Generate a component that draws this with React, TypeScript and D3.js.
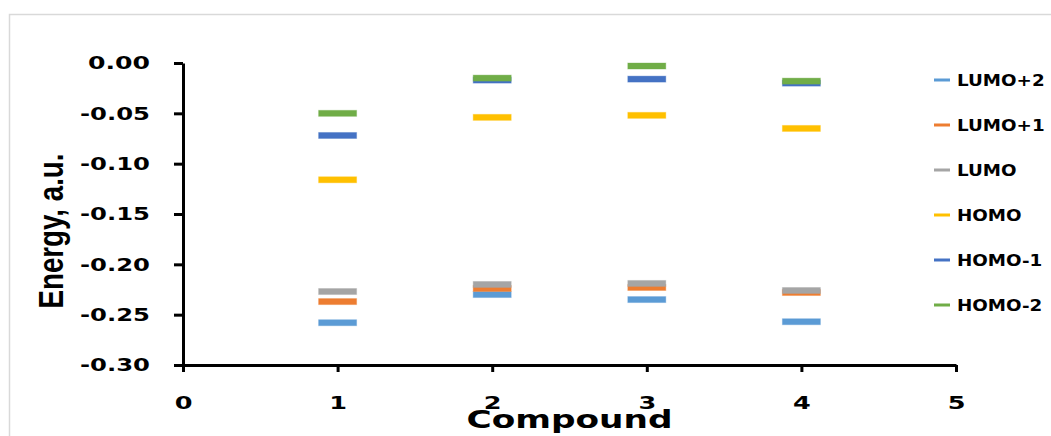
import React, { useEffect, useRef } from 'react'
import * as d3 from 'd3'

// orbital energies (a.u.) per compound
const compounds = [1, 2, 3, 4]
const lumo2 = [-0.258, -0.230, -0.235, -0.257]
const lumo1 = [-0.237, -0.224, -0.223, -0.228]
const lumo = [-0.227, -0.220, -0.219, -0.226]
const homo = [-0.116, -0.054, -0.052, -0.065]
const homo1 = [-0.072, -0.017, -0.016, -0.020]
const homo2 = [-0.050, -0.015, -0.003, -0.018]

const seriesNames = ['LUMO+2', 'LUMO+1', 'LUMO', 'HOMO', 'HOMO-1', 'HOMO-2']
const seriesValues = [lumo2, lumo1, lumo, homo, homo1, homo2]
const colors = ['#5B9BD5', '#ED7D31', '#A5A5A5', '#FFC000', '#4472C4', '#70AD47']

const xTicks = [0, 1, 2, 3, 4, 5]
const yTicks = [0, -0.05, -0.1, -0.15, -0.2, -0.25, -0.3]

const W = 1051
const H = 436
const FONT = "'DejaVu Sans', Verdana, sans-serif"

const App = () => {
  const xRef = useRef<SVGGElement>(null)
  const yRef = useRef<SVGGElement>(null)

  const x = d3.scaleLinear().domain([0, 5]).range([183, 956])
  const y = d3.scaleLinear().domain([-0.3, 0]).range([365, 63])

  useEffect(() => {
    const gx = d3.select(xRef.current)
    gx.call(
      d3.axisBottom(x).tickValues(xTicks).tickSize(7).tickSizeOuter(0).tickPadding(24)
        .tickFormat((d: any) => String(d))
    )
    const gy = d3.select(yRef.current)
    gy.call(
      d3.axisLeft(y).tickValues(yTicks).tickSize(9).tickSizeOuter(0).tickPadding(24)
        .tickFormat((d: any) => (+d).toFixed(2))
    )
    ;[gx, gy].forEach(g => {
      g.selectAll('path, line').attr('stroke', '#000').attr('stroke-width', 3)
      g.selectAll('text')
        .attr('fill', '#000')
        .attr('font-family', FONT)
        .attr('font-weight', 'bold')
        .attr('font-size', 18.5)
    })
    // the original's digits are stretched sideways
    gy.selectAll('text')
      .attr('textLength', (d: any) => (d < 0 ? 70 : 62))
      .attr('lengthAdjust', 'spacingAndGlyphs')
    gx.selectAll('text').attr('transform', 'scale(1.38,1)')
  }, [])

  return (
    <svg width={W} height={H} style={{ position: 'absolute', left: 0, top: 0, background: '#fff' }}>
      <rect x={9.5} y={14.5} width={W + 10} height={H} fill="none" stroke="#d9d9d9" strokeWidth={1.5} />

      {seriesValues.map((vals, si) => (
        <g key={seriesNames[si]}>
          {vals.map((v, i) => (
            <rect
              key={i}
              x={x(compounds[i]) - 19}
              y={y(v) - 3}
              width={38}
              height={6}
              fill={colors[si]}
              stroke={colors[si]}
              strokeOpacity={0.35}
              strokeWidth={1}
            />
          ))}
        </g>
      ))}

      <g ref={yRef} transform="translate(183,0)" />
      <g ref={xRef} transform="translate(0,365)" />

      <text
        transform="translate(63,231) rotate(-90)"
        textAnchor="middle"
        fontFamily="'Liberation Sans', Arial, sans-serif"
        fontWeight="bold"
        fontSize={35}
        textLength={155}
        lengthAdjust="spacingAndGlyphs"
      >
        Energy, a.u.
      </text>
      <text
        x={(x(0) + x(5)) / 2}
        y={428}
        textAnchor="middle"
        fontFamily={FONT}
        fontWeight="bold"
        fontSize={24}
        textLength={206}
        lengthAdjust="spacingAndGlyphs"
      >
        Compound
      </text>

      {seriesNames.map((name, i) => {
        const cy = 80 + i * 45
        return (
          <g key={name} transform={`translate(934,${cy})`}>
            <line x1={0} x2={16} y1={0} y2={0} stroke={colors[i]} strokeWidth={3} />
            <text
              transform="translate(23,5.5) scale(1.22,1)"
              fontFamily={FONT}
              fontWeight="bold"
              fontSize={15}
            >
              {name}
            </text>
          </g>
        )
      })}
    </svg>
  )
}

export default App
